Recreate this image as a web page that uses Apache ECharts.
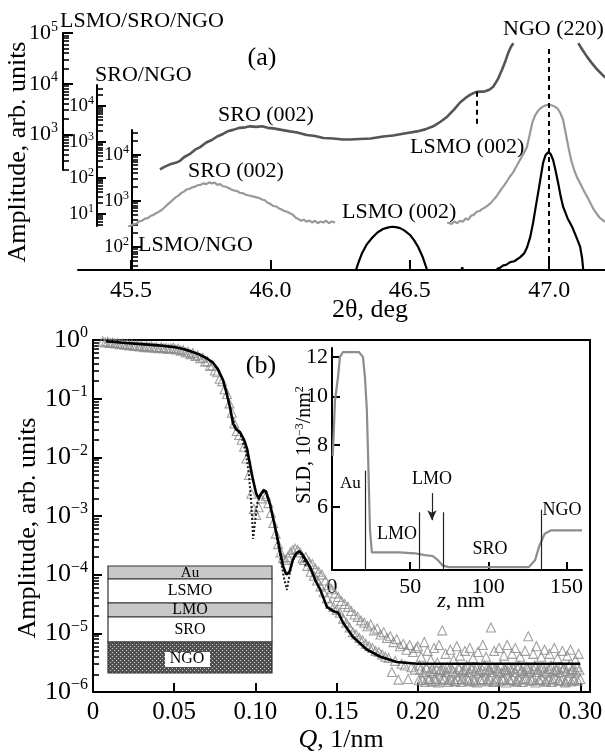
<!DOCTYPE html>
<html><head><meta charset="utf-8">
<script src="https://cdn.jsdelivr.net/npm/echarts@6/dist/echarts.min.js"></script>
<style>html,body{margin:0;padding:0;background:#fff}#c{width:605px;height:754px}</style>
</head><body><div id="c"></div>
<script>
// ---------------- DATA ----------------
// Panel (a): 2theta (deg) vs log10(amplitude)
const xrdTripleLog = [[45.604,2.31],[45.62,2.36],[45.64,2.41],[45.66,2.44],[45.676,2.48],[45.69,2.55],[45.71,2.61],[45.73,2.70],[45.748,2.75],[45.77,2.84],[45.79,2.89],[45.809,2.96],[45.83,3.01],[45.85,3.07],[45.866,3.09],[45.89,3.13],[45.91,3.14],[45.927,3.16],[45.95,3.15],[45.97,3.16],[45.99,3.13],[46.01,3.12],[46.04,3.09],[46.07,3.06],[46.096,3.04],[46.13,2.99],[46.16,2.97],[46.19,2.93],[46.225,2.92],[46.26,2.90],[46.286,2.90],[46.32,2.91],[46.36,2.92],[46.404,2.96],[46.44,2.98],[46.48,3.02],[46.526,3.06],[46.555,3.10],[46.584,3.16],[46.61,3.25],[46.634,3.35],[46.66,3.50],[46.68,3.63],[46.70,3.72],[46.716,3.78],[46.73,3.82],[46.741,3.84],[46.755,3.845],[46.77,3.85],[46.785,3.88],[46.799,3.94],[46.815,4.08],[46.831,4.28],[46.843,4.45],[46.853,4.61],[46.862,4.72],[46.871,4.80],null,[47.104,4.80],[47.12,4.66],[47.136,4.53],[47.155,4.39],[47.172,4.28],[47.19,4.18],[47.201,4.12]];
const xrdSroLog = [[45.489,0.64],[45.50,0.66],[45.51,0.71],[45.52,0.72],[45.53,0.79],[45.54,0.80],[45.55,0.86],[45.56,0.87],[45.57,0.93],[45.58,0.96],[45.59,1.01],[45.60,1.05],[45.61,1.10],[45.62,1.17],[45.63,1.24],[45.64,1.31],[45.65,1.38],[45.66,1.45],[45.67,1.50],[45.68,1.57],[45.69,1.61],[45.70,1.67],[45.71,1.69],[45.72,1.73],[45.73,1.75],[45.74,1.79],[45.75,1.80],[45.76,1.84],[45.77,1.82],[45.78,1.87],[45.79,1.84],[45.80,1.86],[45.81,1.80],[45.82,1.82],[45.83,1.76],[45.84,1.75],[45.85,1.71],[45.86,1.67],[45.87,1.64],[45.88,1.63],[45.89,1.58],[45.90,1.57],[45.91,1.53],[45.92,1.51],[45.93,1.49],[45.94,1.47],[45.95,1.45],[45.96,1.43],[45.97,1.39],[45.98,1.37],[45.99,1.30],[46.00,1.27],[46.01,1.21],[46.02,1.20],[46.03,1.15],[46.04,1.11],[46.05,1.07],[46.06,1.05],[46.07,1.01],[46.08,0.97],[46.09,0.89],[46.10,0.85],[46.11,0.80],[46.12,0.83],[46.13,0.77],[46.14,0.81],[46.15,0.75],[46.16,0.80],[46.17,0.73],[46.18,0.78],[46.19,0.75],[46.20,0.80],[46.21,0.73],[46.22,0.78],[46.232,0.75],null,[46.634,0.75],[46.65,0.71],[46.66,0.78],[46.67,0.73],[46.68,0.80],[46.69,0.77],[46.70,0.86],[46.71,0.83],[46.72,0.94],[46.73,0.97],[46.74,1.05],[46.75,1.07],[46.76,1.13],[46.77,1.17],[46.78,1.23],[46.79,1.29],[46.80,1.38],[46.81,1.47],[46.82,1.58],[46.83,1.70],[46.84,1.80],[46.85,1.92],[46.86,2.04],[46.87,2.14],[46.88,2.28],[46.89,2.42],[46.90,2.56],[46.91,2.70],[46.92,2.85],[46.93,3.20],[46.94,3.55],[46.95,3.74],[46.96,3.86],[46.97,3.94],[46.98,3.99],[46.99,4.02],[47.00,4.03],[47.01,4.01],[47.02,3.98],[47.03,3.92],[47.04,3.80],[47.05,3.60],[47.06,3.20],[47.07,2.80],[47.08,2.45],[47.09,2.20],[47.10,2.00],[47.11,1.86],[47.12,1.70],[47.13,1.55],[47.14,1.41],[47.15,1.25],[47.16,1.11],[47.17,1.00],[47.18,0.89],[47.19,0.83],[47.20,0.77]];
const xrdLsmoLog = [[46.29,1.30],[46.304,1.44],[46.315,1.65],[46.329,1.87],[46.345,2.05],[46.365,2.20],[46.385,2.32],[46.404,2.39],[46.42,2.42],[46.436,2.44],[46.45,2.43],[46.465,2.41],[46.48,2.36],[46.501,2.26],[46.515,2.15],[46.53,2.00],[46.545,1.80],[46.562,1.50],[46.575,1.30],null,[46.68,1.40],[46.688,1.56],[46.695,1.40],null,[46.80,1.40],[46.815,1.53],[46.824,1.55],[46.835,1.60],[46.845,1.61],[46.86,1.67],[46.875,1.69],[46.896,1.78],[46.91,1.86],[46.921,2.00],[46.932,2.22],[46.942,2.52],[46.951,2.85],[46.96,3.17],[46.969,3.50],[46.978,3.83],[46.987,4.00],[46.996,4.06],[47.005,4.02],[47.014,3.89],[47.023,3.65],[47.032,3.39],[47.041,3.10],[47.05,2.87],[47.066,2.62],[47.082,2.44],[47.097,2.22],[47.111,2.00],[47.118,1.75],[47.122,1.50],[47.13,1.30]];
const shoulderMark = [46.74, 3.84, 3.20];   // 2theta, log10 top, log10 bottom
const ngoPeak2Theta = 47.0;
const xTicksA = [45.5, 46.0, 46.5, 47.0];

// Panel (b): Q (1/nm) vs log10(reflectivity)
const reflLowQ = [[0.006,-0.02],[0.0075,-0.04],[0.009,-0.03],[0.0105,-0.05],[0.012,-0.04],[0.0135,-0.06],[0.015,-0.05],[0.0165,-0.07],[0.018,-0.06],[0.0195,-0.08],[0.021,-0.07],[0.0225,-0.09],[0.024,-0.08],[0.0255,-0.10],[0.027,-0.09],[0.0285,-0.11],[0.030,-0.10],[0.0315,-0.12],[0.033,-0.10],[0.0345,-0.12],[0.036,-0.11],[0.0375,-0.13],[0.039,-0.12],[0.0405,-0.14],[0.042,-0.12],[0.0435,-0.14],[0.045,-0.13],[0.0465,-0.15],[0.048,-0.14],[0.0495,-0.13],[0.051,-0.16],[0.0525,-0.15],[0.054,-0.18],[0.0555,-0.17],[0.057,-0.21],[0.0585,-0.20],[0.060,-0.24],[0.0615,-0.22],[0.063,-0.27],[0.0645,-0.26],[0.066,-0.31],[0.0675,-0.30],[0.069,-0.37],[0.0705,-0.36],[0.072,-0.44],[0.0735,-0.43],[0.075,-0.52],[0.0765,-0.55],[0.078,-0.66],[0.0795,-0.70],[0.081,-0.84],[0.0825,-0.92],[0.084,-1.08],[0.0855,-1.24],[0.087,-1.42],[0.0885,-1.55],[0.090,-1.62],[0.0915,-1.70],[0.093,-1.82],[0.0945,-2.02],[0.096,-2.30],[0.0975,-2.62],[0.099,-2.88],[0.1005,-2.98],[0.102,-2.85],[0.1035,-2.70],[0.105,-2.62],[0.1065,-2.66],[0.108,-2.78],[0.1095,-2.95],[0.111,-3.12],[0.1125,-3.30],[0.114,-3.48],[0.1155,-3.62],[0.117,-3.72],[0.1185,-3.75],[0.120,-3.70],[0.1215,-3.62],[0.123,-3.58],[0.1245,-3.56],[0.126,-3.58],[0.1275,-3.62],[0.129,-3.72]];
const reflMidQ = [[0.130,-3.75],[0.131,-3.70],[0.132,-3.85],[0.133,-3.78],[0.134,-3.95],[0.135,-3.82],[0.136,-4.02],[0.137,-3.90],[0.138,-4.10],[0.139,-3.95],[0.140,-4.20],[0.141,-4.00],[0.142,-4.30],[0.143,-4.10],[0.144,-4.40],[0.145,-4.18],[0.146,-4.50],[0.147,-4.25],[0.148,-4.55],[0.149,-4.32],[0.150,-4.60],[0.151,-4.38],[0.152,-4.65],[0.153,-4.45],[0.154,-4.75],[0.155,-4.50],[0.156,-4.82],[0.157,-4.55],[0.158,-4.90],[0.159,-4.62],[0.160,-4.98],[0.161,-4.68],[0.162,-5.02],[0.163,-4.72],[0.164,-5.08],[0.165,-4.78],[0.166,-5.12],[0.167,-4.82],[0.168,-5.18],[0.169,-4.88],[0.170,-5.22],[0.171,-4.85],[0.172,-5.25],[0.173,-4.95],[0.174,-5.30],[0.175,-4.92],[0.176,-5.32],[0.177,-5.02],[0.178,-5.36],[0.179,-4.98],[0.180,-5.40],[0.181,-5.08],[0.182,-5.42],[0.183,-5.05],[0.184,-5.66],[0.185,-5.15],[0.186,-5.47],[0.187,-5.10],[0.188,-5.79],[0.189,-5.22],[0.190,-5.52],[0.191,-5.18],[0.192,-5.55],[0.193,-5.28],[0.194,-5.78],[0.195,-5.20],[0.196,-5.58],[0.197,-5.32],[0.198,-5.62],[0.199,-5.25]];
const reflHighQ = [[0.200,-5.22],[0.201,-5.55],[0.202,-5.40],[0.203,-5.80],[0.204,-5.15],[0.205,-5.58],[0.206,-5.30],[0.207,-5.78],[0.208,-5.45],[0.209,-5.60],[0.210,-5.25],[0.211,-5.82],[0.212,-5.50],[0.213,-5.20],[0.214,-5.62],[0.215,-4.95],[0.216,-5.78],[0.217,-5.35],[0.218,-5.58],[0.219,-5.80],[0.220,-5.28],[0.221,-5.60],[0.222,-5.45],[0.223,-5.82],[0.224,-5.22],[0.225,-5.58],[0.226,-5.38],[0.227,-5.78],[0.228,-5.62],[0.229,-5.30],[0.230,-5.55],[0.231,-5.80],[0.232,-5.25],[0.233,-5.60],[0.234,-5.42],[0.235,-5.82],[0.236,-5.58],[0.237,-5.32],[0.238,-5.62],[0.239,-5.78],[0.240,-5.20],[0.241,-5.55],[0.242,-5.40],[0.243,-5.80],[0.244,-5.62],[0.245,-4.90],[0.246,-5.58],[0.247,-5.30],[0.248,-5.82],[0.249,-5.60],[0.250,-5.25],[0.251,-5.55],[0.252,-5.78],[0.253,-5.38],[0.254,-5.62],[0.255,-5.20],[0.256,-5.58],[0.257,-5.80],[0.258,-5.35],[0.259,-5.60],[0.260,-5.25],[0.261,-5.82],[0.262,-5.55],[0.263,-5.40],[0.264,-5.62],[0.265,-5.78],[0.266,-5.30],[0.267,-5.58],[0.268,-5.05],[0.269,-5.60],[0.270,-5.80],[0.271,-5.35],[0.272,-5.55],[0.273,-5.22],[0.274,-5.62],[0.275,-5.80],[0.276,-5.40],[0.277,-5.58],[0.278,-5.28],[0.279,-5.82],[0.280,-5.60],[0.281,-5.35],[0.282,-5.55],[0.283,-5.78],[0.284,-5.25],[0.285,-5.62],[0.286,-5.42],[0.287,-5.80],[0.288,-5.58],[0.289,-5.30],[0.290,-5.60],[0.291,-5.82],[0.292,-5.38],[0.293,-5.55],[0.294,-5.28],[0.295,-5.62],[0.296,-5.80],[0.297,-5.45],[0.298,-5.58],[0.299,-5.35],[0.300,-5.78]];
const reflLowStrip = [[0.2005,-5.80],[0.2025,-5.77],[0.2045,-5.83],[0.2065,-5.79],[0.2085,-5.82],[0.2105,-5.78],[0.2125,-5.84],[0.2145,-5.80],[0.2165,-5.77],[0.2185,-5.83],[0.2205,-5.79],[0.2225,-5.81],[0.2245,-5.78],[0.2265,-5.83],[0.2285,-5.80],[0.2305,-5.77],[0.2325,-5.82],[0.2345,-5.79],[0.2365,-5.84],[0.2385,-5.80],[0.2405,-5.78],[0.2425,-5.82],[0.2445,-5.79],[0.2465,-5.83],[0.2485,-5.77],[0.2505,-5.81],[0.2525,-5.79],[0.2545,-5.84],[0.2565,-5.80],[0.2585,-5.78],[0.2605,-5.82],[0.2625,-5.79],[0.2645,-5.83],[0.2665,-5.77],[0.2685,-5.81],[0.2705,-5.79],[0.2725,-5.84],[0.2745,-5.80],[0.2765,-5.78],[0.2785,-5.82],[0.2805,-5.79],[0.2825,-5.83],[0.2845,-5.77],[0.2865,-5.81],[0.2885,-5.80],[0.2905,-5.84],[0.2925,-5.78],[0.2945,-5.82],[0.2965,-5.79],[0.2985,-5.81]];
const reflMidStrip = [[0.2015,-5.62],[0.2035,-5.66],[0.2055,-5.60],[0.2075,-5.64],[0.2095,-5.67],[0.2115,-5.61],[0.2135,-5.65],[0.2155,-5.62],[0.2175,-5.66],[0.2195,-5.60],[0.2215,-5.64],[0.2235,-5.67],[0.2255,-5.61],[0.2275,-5.65],[0.2295,-5.62],[0.2315,-5.66],[0.2335,-5.60],[0.2355,-5.64],[0.2375,-5.67],[0.2395,-5.61],[0.2415,-5.65],[0.2435,-5.62],[0.2455,-5.66],[0.2475,-5.60],[0.2495,-5.64],[0.2515,-5.67],[0.2535,-5.61],[0.2555,-5.65],[0.2575,-5.62],[0.2595,-5.66],[0.2615,-5.60],[0.2635,-5.64],[0.2655,-5.67],[0.2675,-5.61],[0.2695,-5.65],[0.2715,-5.62],[0.2735,-5.66],[0.2755,-5.60],[0.2775,-5.64],[0.2795,-5.67],[0.2815,-5.61],[0.2835,-5.65],[0.2855,-5.62],[0.2875,-5.66],[0.2895,-5.60],[0.2915,-5.64],[0.2935,-5.67],[0.2955,-5.61],[0.2975,-5.65],[0.2995,-5.62]];
const fitData = [[0.008,-0.02],[0.02,-0.05],[0.03,-0.07],[0.04,-0.09],[0.05,-0.12],[0.055,-0.15],[0.06,-0.19],[0.065,-0.24],[0.07,-0.31],[0.074,-0.39],[0.077,-0.50],[0.080,-0.68],[0.082,-0.88],[0.0843,-1.14],[0.0862,-1.42],[0.088,-1.52],[0.0905,-1.57],[0.093,-1.70],[0.0948,-1.85],[0.0965,-2.10],[0.0985,-2.38],[0.1005,-2.62],[0.102,-2.70],[0.1035,-2.62],[0.105,-2.56],[0.1065,-2.58],[0.109,-2.80],[0.111,-3.05],[0.113,-3.30],[0.115,-3.58],[0.117,-3.85],[0.119,-4.00],[0.121,-3.95],[0.123,-3.75],[0.125,-3.64],[0.127,-3.60],[0.129,-3.66],[0.1336,-3.87],[0.137,-4.10],[0.140,-4.26],[0.144,-4.55],[0.1484,-4.63],[0.151,-4.65],[0.154,-4.82],[0.160,-5.06],[0.1687,-5.28],[0.177,-5.40],[0.187,-5.49],[0.1995,-5.52],[0.25,-5.52],[0.30,-5.52]];
const fitAltData = [[0.085,-1.25],[0.088,-1.50],[0.091,-1.62],[0.094,-1.90],[0.096,-2.30],[0.0975,-2.80],[0.0986,-3.39],[0.0998,-3.10],[0.101,-2.80],[0.1035,-2.62],[0.106,-2.58],[0.109,-2.80],[0.112,-3.20],[0.115,-3.65],[0.1175,-4.05],[0.1194,-4.26],[0.121,-4.00],[0.123,-3.75],[0.126,-3.62],[0.128,-3.62],[0.131,-3.85]];
const xTicksB = [0, 0.05, 0.10, 0.15, 0.20, 0.25, 0.30];

// Inset: SLD profile, z (nm) vs SLD (1e-3/nm^2)
const sldData = [[0.5,7.6],[1.9,9.8],[3.8,10.9],[5.1,12.0],[7,12.27],[17.2,12.27],[19.8,12.0],[21.1,10.9],[22.3,9.4],[23.3,7.2],[24.3,5.4],[25.5,4.87],[43,4.87],[53,4.85],[59.4,4.81],[64.5,4.79],[67.7,4.70],[70.9,4.58],[75,4.55],[107,4.55],[126,4.55],[130,4.70],[132.5,5.0],[136,5.3],[140,5.39],[160,5.39]];
const layerZ = [21.5, 56, 71, 134];
const layerTop = [7.1, 5.86, 5.86, 5.93];
const lmoArrow = [64, 6.4, 5.65];
const sldTicks = [6, 8, 10, 12];

// ---------------- HELPERS ----------------
const FONT = '"Liberation Serif","Times New Roman",serif';
const toAmp = arr => arr.map(p => p === null ? ['-', '-'] : [p[0], Math.pow(10, p[1])]);
function powFmt(v) { const e = Math.round(Math.log10(v)); return '10{sup|' + (e < 0 ? '\u2212' + (-e) : e) + '}'; }
function majorVals(min, max) { const o = []; for (let e = -8; e <= 7; e++) { const v = Math.pow(10, e); if (v >= min && v <= max) o.push(v); } return o; }
function minorVals(min, max) { const o = []; for (let e = -8; e <= 7; e++) for (let m = 2; m <= 9; m++) { const v = m * Math.pow(10, e); if (v >= min && v <= max) o.push(v); } return o; }

function logAxes(grid, min, max, offset, fs, supFs, majLen, minLen, labelMargin) {
  const rich = { sup: { fontSize: supFs, fontFamily: FONT, color: '#000', verticalAlign: 'top', padding: [0, 0, Math.round(fs * 0.55), 0] } };
  const base = { type: 'log', gridIndex: grid, min: min, max: max, position: 'left', offset: offset, splitLine: { show: false } };
  return [
    Object.assign({}, base, {
      axisLine: { show: true, onZero: false, lineStyle: { color: '#000', width: 2 } },
      axisTick: { show: true, inside: true, length: majLen, lineStyle: { color: '#000', width: 2 }, customValues: majorVals(min, max) },
      axisLabel: { show: true, customValues: majorVals(min, max), formatter: powFmt, margin: labelMargin, color: '#000', fontFamily: FONT, fontSize: fs, rich: rich, hideOverlap: false }
    }),
    Object.assign({}, base, {
      axisLine: { show: false },
      axisTick: { show: true, inside: true, length: minLen, lineStyle: { color: '#000', width: 1.6 }, customValues: minorVals(min, max) },
      axisLabel: { show: false }
    })
  ];
}

// NGO hatch pattern
const pc = document.createElement('canvas'); pc.width = 4; pc.height = 4;
const pg = pc.getContext('2d'); pg.fillStyle = '#505050'; pg.fillRect(0, 0, 4, 4);
pg.fillStyle = '#d0d0d0'; pg.fillRect(0, 0, 1, 1); pg.fillRect(2, 2, 1, 1);

function txt(t, x, y, fs, align, extra) {
  return Object.assign({ type: 'text', x: x, y: y, z: 100, silent: true,
    style: { text: t, fontSize: fs, fontFamily: FONT, fill: '#000', textAlign: align || 'left', verticalAlign: 'middle', textVerticalAlign: 'middle',
      rich: { sup: { fontSize: Math.round(fs * 0.62), fontFamily: FONT, fill: '#000', verticalAlign: 'top', padding: [0, 0, Math.round(fs * 0.5), 0] },
              i: { fontSize: fs, fontFamily: FONT, fontStyle: 'italic', fill: '#000' } } } }, extra || {});
}

const XA = [45.31, 47.2];
const hiddenX = (g) => ({ type: 'value', gridIndex: g, min: XA[0], max: XA[1], show: false });
const yA = logAxes(0, 199, 1.001e5, 15, 22, 14, 10, 6, 5);
const yB = logAxes(1, 4.5, 3.8e4, -19, 19, 12, 9, 6, 3);
const yC = logAxes(2, 31.6, 3.48e4, -54, 19, 12, 9, 6, 3);
const yMain = logAxes(4, 0.998e-6, 1.002, 0, 26, 16, 9, 6, 5);
const reflAll = reflLowQ.concat(reflMidQ, reflHighQ, reflLowStrip, reflMidStrip);

const option = {
  animation: false,
  backgroundColor: '#fff',
  grid: [
    { left: 78, right: 0, top: 33, bottom: 754 - 170, outerBoundsMode: 'none' },
    { left: 78, right: 0, top: 85, bottom: 754 - 226, outerBoundsMode: 'none' },
    { left: 78, right: 0, top: 130, bottom: 754 - 270, outerBoundsMode: 'none' },
    { left: 78, right: 0, top: 45, bottom: 754 - 270, outerBoundsMode: 'none' },
    { left: 93, right: 15, top: 340, bottom: 62, outerBoundsMode: 'none' },
    { left: 332, right: 23, top: 348, bottom: 184, outerBoundsMode: 'none' }
  ],
  xAxis: [
    hiddenX(0), hiddenX(1),
    { type: 'value', gridIndex: 2, min: XA[0], max: XA[1], splitLine: { show: false },
      axisLine: { onZero: false, lineStyle: { color: '#000', width: 2 } },
      axisTick: { inside: true, length: 10, lineStyle: { color: '#000', width: 2 }, customValues: xTicksA },
      axisLabel: { customValues: xTicksA, formatter: v => v.toFixed(1), color: '#000', fontFamily: FONT, fontSize: 24, margin: 9, hideOverlap: false } },
    hiddenX(3),
    { type: 'value', gridIndex: 4, min: 0, max: 0.306, splitLine: { show: false },
      axisLine: { onZero: false, lineStyle: { color: '#000', width: 2 } },
      axisTick: { inside: true, length: 9, lineStyle: { color: '#000', width: 2 }, customValues: xTicksB },
      axisLabel: { customValues: xTicksB, formatter: v => v === 0 ? '0' : v.toFixed(2), color: '#000', fontFamily: FONT, fontSize: 25, margin: 8, hideOverlap: false } },
    { type: 'value', gridIndex: 4, position: 'top', min: 0, max: 0.306, splitLine: { show: false },
      axisLine: { onZero: false, lineStyle: { color: '#000', width: 2 } }, axisTick: { show: false }, axisLabel: { show: false } },
    { type: 'value', gridIndex: 5, min: 0, max: 160, interval: 50, splitLine: { show: false },
      axisLine: { onZero: false, lineStyle: { color: '#000', width: 2 } },
      axisTick: { inside: true, length: 8, lineStyle: { color: '#000', width: 2 } },
      axisLabel: { color: '#000', fontFamily: FONT, fontSize: 22, margin: 6 } }
  ],
  yAxis: [
    yA[0], yA[1], yB[0], yB[1], yC[0], yC[1],
    { type: 'value', gridIndex: 3, min: 0, max: 1, show: false },
    yMain[0], yMain[1],
    { type: 'value', gridIndex: 4, position: 'right', min: 0, max: 1, splitLine: { show: false },
      axisLine: { show: true, onZero: false, lineStyle: { color: '#000', width: 2 } }, axisTick: { show: false }, axisLabel: { show: false } },
    { type: 'log', gridIndex: 5, min: 4.49, max: 12.5, splitLine: { show: false },
      axisLine: { show: true, onZero: false, lineStyle: { color: '#000', width: 2 } },
      axisTick: { show: true, inside: true, length: 8, lineStyle: { color: '#000', width: 2 }, customValues: sldTicks },
      axisLabel: { customValues: sldTicks, color: '#000', fontFamily: FONT, fontSize: 22, margin: 4, formatter: v => String(Math.round(v)), hideOverlap: false } }
  ],
  series: [
    { type: 'line', xAxisIndex: 0, yAxisIndex: 0, data: toAmp(xrdTripleLog), showSymbol: false, symbol: 'none',
      lineStyle: { color: '#555', width: 2.6 }, z: 3,
      markLine: { silent: true, symbol: 'none', label: { show: false }, lineStyle: { type: [5, 4], color: '#000', width: 2 },
        data: [[{ coord: [shoulderMark[0], Math.pow(10, shoulderMark[1])] }, { coord: [shoulderMark[0], Math.pow(10, shoulderMark[2])] }]] } },
    { type: 'line', xAxisIndex: 1, yAxisIndex: 2, data: toAmp(xrdSroLog), showSymbol: false, symbol: 'none',
      lineStyle: { color: '#999', width: 2.2 }, z: 2 },
    { type: 'line', xAxisIndex: 2, yAxisIndex: 4, data: toAmp(xrdLsmoLog), showSymbol: false, symbol: 'none',
      lineStyle: { color: '#000', width: 2.2 }, z: 4 },
    { type: 'line', xAxisIndex: 3, yAxisIndex: 6, data: [], showSymbol: false,
      markLine: { silent: true, symbol: 'none', label: { show: false }, lineStyle: { type: [5, 4], color: '#000', width: 2 },
        data: [{ xAxis: ngoPeak2Theta }] } },
    { type: 'scatter', xAxisIndex: 4, yAxisIndex: 7, data: toAmp(reflAll), symbol: 'triangle', symbolSize: 9,
      itemStyle: { color: 'rgba(255,255,255,0)', borderColor: '#8a8a8a', borderWidth: 1.1 }, z: 2 },
    { type: 'line', xAxisIndex: 4, yAxisIndex: 7, data: toAmp(fitAltData), showSymbol: false, symbol: 'none',
      lineStyle: { type: 'dotted', color: '#222', width: 2 }, z: 3 },
    { type: 'line', xAxisIndex: 4, yAxisIndex: 7, data: toAmp(fitData), showSymbol: false, symbol: 'none',
      lineStyle: { color: '#000', width: 2.6 }, z: 4 },
    { type: 'line', xAxisIndex: 6, yAxisIndex: 10, data: sldData, showSymbol: false, symbol: 'none',
      lineStyle: { color: '#8c8c8c', width: 2.2 }, z: 4,
      markLine: { silent: true, symbol: 'none', label: { show: false }, lineStyle: { type: 'solid', color: '#222', width: 1.2 },
        data: layerZ.map((z, i) => [{ coord: [z, 4.5] }, { coord: [z, layerTop[i]] }]).concat([
          [{ coord: [lmoArrow[0], lmoArrow[1]], symbol: 'none' }, { coord: [lmoArrow[0], lmoArrow[2]], symbol: 'arrow', symbolSize: [7, 10] }]
        ]) } }
  ],
  graphic: { elements: [
    txt('LSMO/SRO/NGO', 60, 21, 22),
    txt('SRO/NGO', 95, 75, 22),
    txt('(a)', 262, 58, 26, 'center'),
    txt('SRO (002)', 218, 115, 22),
    txt('NGO (220)', 503, 29, 22),
    txt('SRO (002)', 188, 171, 22),
    txt('LSMO (002)', 410, 147, 22),
    txt('LSMO (002)', 342, 212, 22),
    txt('LSMO/NGO', 138, 245, 22),
    txt('Amplitude, arb. units', 18, 152, 26, 'center', { rotation: Math.PI / 2 }),
    txt('2\u03b8, deg', 370, 310, 26, 'center'),
    txt('(b)', 261, 366, 26, 'center'),
    txt('Amplitude, arb. units', 28, 528, 26, 'center', { rotation: Math.PI / 2 }),
    txt('{i|Q}, 1/nm', 341, 740, 26, 'center'),
    txt('SLD, 10{sup|\u22123}/nm{sup|2}', 305, 445, 20, 'center', { rotation: Math.PI / 2 }),
    txt('{i|z}, nm', 461, 601, 22, 'center'),
    txt('Au', 340, 484, 17),
    txt('LMO', 432, 479, 18, 'center'),
    txt('LMO', 397, 534, 18, 'center'),
    txt('SRO', 490, 549, 18, 'center'),
    txt('NGO', 562, 510, 18, 'center'),
    { type: 'rect', z: 50, silent: true, shape: { x: 108, y: 566, width: 164, height: 13 }, style: { fill: '#c8c8c8', stroke: '#333', lineWidth: 1.2 } },
    { type: 'rect', z: 50, silent: true, shape: { x: 108, y: 579, width: 164, height: 24 }, style: { fill: '#fff', stroke: '#333', lineWidth: 1.2 } },
    { type: 'rect', z: 50, silent: true, shape: { x: 108, y: 603, width: 164, height: 14 }, style: { fill: '#c8c8c8', stroke: '#333', lineWidth: 1.2 } },
    { type: 'rect', z: 50, silent: true, shape: { x: 108, y: 617, width: 164, height: 25 }, style: { fill: '#fff', stroke: '#333', lineWidth: 1.2 } },
    { type: 'rect', z: 50, silent: true, shape: { x: 108, y: 642, width: 164, height: 31 }, style: { fill: { image: pc, repeat: 'repeat' }, stroke: '#333', lineWidth: 1.2 } },
    { type: 'rect', z: 51, silent: true, shape: { x: 165, y: 652, width: 45, height: 15 }, style: { fill: '#fff' } },
    txt('Au', 190, 573, 15, 'center', { z: 60 }),
    txt('LSMO', 190, 591, 16, 'center', { z: 60 }),
    txt('LMO', 190, 610, 16, 'center', { z: 60 }),
    txt('SRO', 190, 630, 16, 'center', { z: 60 }),
    txt('NGO', 187, 659, 16, 'center', { z: 60 })
  ] }
};
const chart = echarts.init(document.getElementById('c'), null, { renderer: 'canvas' });
chart.setOption(option);
</script></body></html>
